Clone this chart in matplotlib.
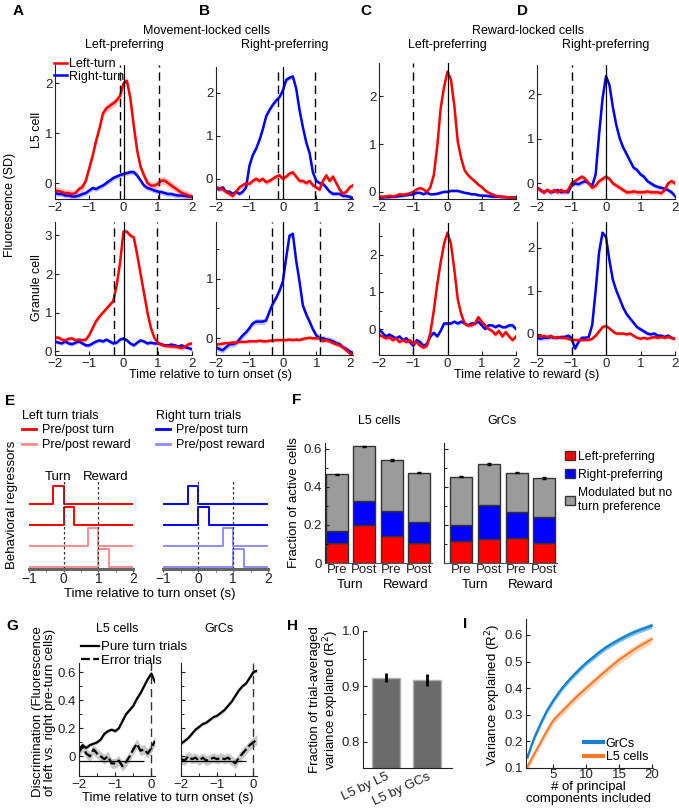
import numpy as np
import matplotlib
matplotlib.use('Agg')
import matplotlib.pyplot as plt
from matplotlib.transforms import ScaledTranslation

plt.rcParams['font.family'] = ['Liberation Sans', 'DejaVu Sans']
plt.rcParams['font.size'] = 9
plt.rcParams['xtick.direction'] = 'in'
plt.rcParams['ytick.direction'] = 'in'
plt.rcParams['xtick.major.size'] = 3
plt.rcParams['ytick.major.size'] = 3
plt.rcParams['xtick.minor.size'] = 2
plt.rcParams['ytick.minor.size'] = 2
plt.rcParams['xtick.major.pad'] = 2
plt.rcParams['ytick.major.pad'] = 2
plt.rcParams['xtick.labelsize'] = 9.5
plt.rcParams['ytick.labelsize'] = 9.5

# ---------------- data: panels A-D (traces, SD) ----------------
t_std = np.round(np.arange(-2.0, 2.01, 0.1), 1)     # 41 samples
t_long = np.round(np.arange(-2.0, 2.11, 0.1), 1)    # 42 samples (panel B)

a_top_red = [-0.15, -0.16, -0.18, -0.2, -0.2, -0.22, -0.2, -0.12, -0.08, 0.05,
             0.3, 0.55, 0.85, 1.1, 1.4, 1.5, 1.55, 1.6, 1.66, 1.75,
             2.0, 2.05, 1.7, 1.15, 0.65, 0.32, 0.15, 0.0, -0.05, -0.05,
             -0.02, 0.05, 0.05, 0.0, -0.05, -0.1, -0.15, -0.2, -0.22, -0.25, -0.27]
a_top_blue = [-0.2, -0.22, -0.22, -0.25, -0.25, -0.27, -0.27, -0.25, -0.22, -0.2,
              -0.15, -0.1, -0.12, -0.08, -0.05, 0.0, 0.05, 0.1, 0.13, 0.16,
              0.18, 0.2, 0.22, 0.22, 0.15, 0.05, -0.05, -0.1, -0.12, -0.15,
              -0.17, -0.18, -0.2, -0.22, -0.22, -0.24, -0.25, -0.25, -0.26, -0.27, -0.28]
a_bot_red = [0.35, 0.35, 0.3, 0.28, 0.32, 0.33, 0.28, 0.3, 0.28, 0.3,
             0.42, 0.6, 0.78, 0.9, 1.0, 1.1, 1.2, 1.3, 1.7, 2.3,
             3.1, 3.1, 3.0, 2.95, 2.5, 2.0, 1.5, 1.0, 0.6, 0.35,
             0.22, 0.17, 0.14, 0.13, 0.12, 0.12, 0.1, 0.08, 0.12, 0.18, 0.2]
a_bot_blue = [0.25, 0.22, 0.2, 0.25, 0.2, 0.18, 0.22, 0.25, 0.2, 0.15,
              0.15, 0.2, 0.25, 0.28, 0.25, 0.3, 0.25, 0.2, 0.22, 0.3,
              0.33, 0.28, 0.2, 0.15, 0.22, 0.28, 0.25, 0.2, 0.22, 0.2,
              0.2, 0.18, 0.15, 0.15, 0.17, 0.15, 0.12, 0.15, 0.1, 0.08, 0.05]

b_top_red = [-0.2, -0.22, -0.25, -0.3, -0.35, -0.4, -0.3, -0.2, -0.15, -0.1,
             -0.12, -0.05, 0.0, -0.05, 0.0, -0.08, -0.05, 0.0, 0.05, 0.08,
             0.0, 0.05, 0.12, 0.15, 0.05, -0.05, -0.05, -0.1, -0.05, -0.15,
             -0.2, -0.25, -0.05, 0.08, -0.05, 0.05, -0.1, -0.25, -0.35, -0.3, -0.2, -0.15]
b_top_blue = [-0.2, -0.25, -0.2, -0.3, -0.3, -0.35, -0.3, -0.35, -0.3, -0.2,
              0.3, 0.55, 0.7, 0.9, 1.15, 1.45, 1.6, 1.72, 1.82, 1.9,
              2.05, 2.3, 2.35, 2.38, 2.1, 1.6, 1.2, 0.85, 0.6, 0.15,
              -0.05, -0.1, -0.12, -0.2, -0.3, -0.35, -0.35, -0.35, -0.4, -0.4, -0.42, -0.45]
b_bot_red = [-0.1, -0.1, -0.09, -0.08, -0.08, -0.07, -0.07, -0.06, -0.06, -0.06,
             -0.05, -0.05, -0.05, -0.04, -0.05, -0.05, -0.04, -0.04, -0.03, -0.03,
             -0.03, -0.03, -0.02, -0.03, -0.02, -0.03, -0.01, 0.0, 0.01, 0.0,
             0.0, 0.0, -0.05, -0.03, -0.05, -0.08, -0.1, -0.12, -0.15, -0.2, -0.25, -0.3]
b_bot_blue = [-0.15, -0.18, -0.2, -0.15, -0.1, -0.1, -0.08, -0.02, 0.05, 0.1,
              0.17, 0.25, 0.28, 0.28, 0.28, 0.3, 0.45, 0.58, 0.68, 0.8,
              0.95, 1.35, 1.72, 1.75, 1.3, 0.95, 0.55, 0.4, 0.28, 0.15,
              0.05, 0.0, 0.0, -0.02, -0.03, -0.05, -0.08, -0.1, -0.15, -0.18, -0.22, -0.25]

c_top_red = [-0.1, -0.1, -0.1, -0.08, -0.1, -0.08, -0.05, -0.06, -0.05, -0.03,
             0.0, 0.05, 0.08, 0.05, 0.0, 0.1, 0.35, 0.95, 1.75, 2.2,
             2.52, 2.35, 1.8, 1.05, 0.7, 0.45, 0.35, 0.28, 0.22, 0.15,
             0.1, 0.03, -0.02, -0.05, -0.08, -0.1, -0.1, -0.11, -0.12, -0.12, -0.13]
c_top_blue = [-0.12, -0.12, -0.11, -0.11, -0.1, -0.1, -0.09, -0.08, -0.07, -0.06,
              -0.05, -0.02, -0.02, -0.05, -0.02, -0.05, -0.05, -0.04, -0.02, 0.0,
              0.0, 0.02, 0.02, 0.02, 0.0, -0.02, -0.03, -0.05, -0.05, -0.07,
              -0.08, -0.08, -0.09, -0.1, -0.1, -0.1, -0.11, -0.11, -0.12, -0.12, -0.12]
c_bot_red = [-0.15, -0.2, -0.25, -0.22, -0.3, -0.25, -0.35, -0.3, -0.35, -0.3,
             -0.4, -0.35, -0.45, -0.5, -0.45, -0.1, 0.5, 1.2, 1.8, 2.3,
             2.6, 2.3, 1.6, 0.8, 0.4, 0.15, 0.1, 0.1, 0.15, 0.32,
             0.2, 0.1, 0.0, -0.05, -0.15, -0.05, -0.2, -0.08, -0.2, -0.3, -0.2]
c_bot_blue = [0.0, -0.1, -0.2, -0.15, -0.2, -0.25, -0.2, -0.3, -0.25, -0.35,
              -0.45, -0.3, -0.35, -0.45, -0.4, -0.2, -0.1, -0.2, -0.05, 0.15,
              0.15, 0.15, 0.2, 0.15, 0.2, 0.15, 0.1, 0.15, 0.15, 0.2,
              0.1, 0.0, 0.1, 0.1, 0.05, 0.1, 0.05, 0.05, 0.1, 0.1, 0.0]

d_top_red = [-0.1, -0.15, -0.2, -0.15, -0.2, -0.15, -0.2, -0.15, -0.2, -0.15,
             0.0, 0.05, 0.1, 0.15, 0.1, 0.0, -0.1, -0.05, 0.05, 0.1,
             0.15, 0.1, 0.0, -0.05, -0.1, -0.15, -0.2, -0.2, -0.18, -0.2,
             -0.2, -0.2, -0.18, -0.2, -0.2, -0.2, -0.22, -0.15, 0.0, 0.05, 0.0]
d_top_blue = [-0.1, -0.15, -0.2, -0.15, -0.2, -0.18, -0.15, -0.2, -0.18, -0.2,
              -0.05, 0.0, -0.02, 0.02, 0.05, 0.0, -0.05, 0.2, 1.1, 1.9,
              2.4, 2.2, 1.7, 1.3, 1.0, 0.8, 0.65, 0.5, 0.35, 0.3,
              0.2, 0.15, 0.05, 0.0, -0.05, -0.08, -0.1, -0.12, -0.15, -0.2, -0.28]
d_bot_red = [-0.05, -0.07, -0.05, -0.08, -0.05, -0.1, -0.08, -0.1, -0.1, -0.12,
             -0.15, -0.15, -0.15, -0.15, -0.15, -0.15, -0.12, -0.05, 0.05, 0.15,
             0.18, 0.12, 0.05, 0.0, 0.0, 0.0, -0.02, 0.0, -0.05, -0.1,
             -0.12, -0.1, -0.12, -0.1, -0.08, -0.1, -0.08, -0.1, -0.08, -0.1, -0.12]
d_bot_blue = [-0.1, -0.12, -0.1, -0.1, -0.08, -0.1, -0.1, -0.08, -0.08, -0.05,
              -0.1, -0.35, -0.2, -0.1, -0.1, -0.08, 0.2, 1.0, 1.9, 2.35,
              2.25, 1.7, 1.25, 1.0, 0.8, 0.6, 0.45, 0.35, 0.25, 0.15,
              0.1, 0.05, 0.0, -0.02, 0.0, -0.05, -0.05, -0.08, -0.05, -0.1, -0.12]

# ---------------- data: panel E (regressor windows, s) ----------------
e_windows = [(-0.3, 0.0), (0.0, 0.3), (0.7, 1.0), (1.0, 1.3)]

# ---------------- data: panel F (fraction of active cells) ----------------
f_groups = ['Pre', 'Post', 'Pre', 'Post']
f_l5_left = [0.107, 0.197, 0.142, 0.107]
f_l5_right = [0.063, 0.127, 0.133, 0.108]
f_l5_nopref = [0.295, 0.288, 0.265, 0.259]
f_grc_left = [0.118, 0.128, 0.133, 0.107]
f_grc_right = [0.082, 0.175, 0.133, 0.137]
f_grc_nopref = [0.253, 0.218, 0.208, 0.201]
f_err = 0.004

# ---------------- data: panel G (discrimination) ----------------
t_g = np.round(np.arange(-2.0, 0.11, 0.1), 1)
g_l5_pure = [0.05, 0.08, 0.06, 0.08, 0.09, 0.1, 0.12, 0.16, 0.18, 0.19,
             0.18, 0.2, 0.25, 0.3, 0.33, 0.36, 0.41, 0.45, 0.5, 0.55, 0.59, 0.53]
g_l5_err = [0.03, 0.07, 0.02, 0.0, 0.05, 0.02, 0.0, -0.02, 0.0, -0.05,
            -0.05, -0.03, -0.07, -0.04, 0.0, 0.05, 0.09, 0.04, 0.05, 0.02, 0.06, 0.11]
g_grc_pure = [0.09, 0.11, 0.13, 0.16, 0.19, 0.21, 0.23, 0.24, 0.26, 0.28,
              0.29, 0.31, 0.33, 0.36, 0.39, 0.43, 0.47, 0.5, 0.52, 0.56, 0.6, 0.61]
g_grc_err = [-0.02, -0.03, 0.0, -0.02, -0.01, -0.03, -0.01, -0.03, -0.02, -0.01,
             -0.02, -0.01, -0.02, -0.01, -0.03, -0.05, -0.01, 0.02, 0.05, 0.08, 0.1, 0.12]

# ---------------- data: panel H ----------------
h_labels = ['L5 by L5', 'L5 by GCs']
h_vals = [0.916, 0.912]
h_errs = [0.0075, 0.011]

# ---------------- data: panel I ----------------
i_npc = np.arange(1, 21)
i_grc = [0.14, 0.21, 0.265, 0.315, 0.355, 0.39, 0.42, 0.447, 0.472, 0.495,
         0.515, 0.535, 0.553, 0.568, 0.582, 0.595, 0.607, 0.617, 0.626, 0.635]
i_l5 = [0.105, 0.15, 0.195, 0.24, 0.28, 0.305, 0.33, 0.355, 0.378, 0.4,
        0.422, 0.444, 0.465, 0.486, 0.506, 0.523, 0.54, 0.556, 0.57, 0.584]

RED, BLUE = '#ff0000', '#0000ff'
W, H = 679, 808
fig = plt.figure(figsize=(W / 100, H / 100), dpi=100)


def px_ax(l, t, r, b):
    return fig.add_axes([l / W, 1 - b / H, (r - l) / W, (b - t) / H])


def ftext(x, y, s, **kw):
    kw.setdefault('ha', 'center')
    kw.setdefault('va', 'center')
    fig.text(x / W, 1 - y / H, s, **kw)


def clean(ax):
    for side in ['top', 'right']:
        ax.spines[side].set_visible(False)
    for side in ['left', 'bottom']:
        ax.spines[side].set_linewidth(0.8)
        ax.spines[side].set_color('#222222')
    ax.tick_params(colors='#222222', width=0.8)
    ax.patch.set_alpha(0)


def trace_panel(rect, t, red, blue, ylim, dashed, xmax=2.0, sems=(0.06, 0.05), minor=False):
    ax = px_ax(*rect)
    red = np.array(red)
    blue = np.array(blue)
    ax.fill_between(t, blue - sems[1], blue + sems[1], color='#9a9aff', alpha=0.6, lw=0)
    ax.fill_between(t, red - sems[0], red + sems[0], color='#ff9a9a', alpha=0.6, lw=0)
    lb, = ax.plot(t, blue, color=BLUE, lw=1.8)
    lr, = ax.plot(t, red, color=RED, lw=1.8)
    for x in dashed:
        ax.axvline(x, color='k', lw=1.0, ls=(0, (6, 3.5)))
    ax.axvline(0, color='k', lw=0.9)
    ax.set_xlim(-2, xmax)
    ax.set_ylim(*ylim)
    ax.set_xticks([-2, -1, 0, 1, 2])
    ax.set_yticks([v for v in [0, 1, 2, 3] if v <= ylim[1]])
    if minor:
        ax.set_yticks([v for v in [0.5, 1.5, 2.5] if v <= ylim[1]], minor=True)
    clean(ax)
    return ax, lr, lb


# ---------------- A-D ----------------
axA, lr, lb = trace_panel((55, 65, 192, 199), t_std, a_top_red, a_top_blue, (-0.32, 2.37), [-0.1, 1.05],
                          sems=(0.08, 0.05))
fig.legend([lr, lb], ['Left-turn', 'Right-turn'], loc='upper left', bbox_to_anchor=(54 / W, 1 - 58 / H),
           frameon=False, borderpad=0, borderaxespad=0, handlelength=1.0, handletextpad=0.2,
           labelspacing=0.05, fontsize=9)
trace_panel((55, 222, 192, 355), t_std, a_bot_red, a_bot_blue, (-0.1, 3.35), [-0.29, 0.97])
trace_panel((216, 67, 353, 199), t_long, b_top_red, b_top_blue, (-0.47, 2.6), [-0.15, 0.95], xmax=2.1)
trace_panel((216, 222, 353, 355), t_long, b_bot_red, b_bot_blue, (-0.28, 1.95), [-0.31, 1.12], xmax=2.1,
            sems=(0.03, 0.05), minor=True)
trace_panel((379, 63, 516, 199), t_std, c_top_red, c_top_blue, (-0.15, 2.7), [-1.0], sems=(0.04, 0.03))
trace_panel((379, 223, 516, 355), t_std, c_bot_red, c_bot_blue, (-0.7, 2.86), [-1.0], minor=True)
trace_panel((537, 65, 675, 199), t_std, d_top_red, d_top_blue, (-0.35, 2.65), [-1.0])
trace_panel((537, 222, 675, 355), t_std, d_bot_red, d_bot_blue, (-0.5, 2.6), [-1.0], sems=(0.04, 0.05))

bold = dict(fontweight='bold', fontsize=11)
ftext(18, 11, 'A', **bold)
ftext(205, 11, 'B', **bold)
ftext(366, 11, 'C', **bold)
ftext(523, 11, 'D', **bold)
ftext(207, 31, 'Movement-locked cells')
ftext(124, 45, 'Left-preferring')
ftext(285, 45, 'Right-preferring')
ftext(528, 31, 'Reward-locked cells')
ftext(447, 45, 'Left-preferring')
ftext(606, 45, 'Right-preferring')
ftext(10, 205, 'Fluorescence (SD)', rotation=90)
ftext(37, 130, 'L5 cell', rotation=90)
ftext(37, 288, 'Granule cell', rotation=90)
ftext(210, 375, 'Time relative to turn onset (s)')
ftext(527, 375, 'Time relative to reward (s)')

# ---------------- E ----------------
ftext(10, 401, 'E', **bold)
e_cols = [[RED, RED, '#ff8c8c', '#ff8c8c'], [BLUE, BLUE, '#8c8cff', '#8c8cff']]
e_titles = ['Left turn trials', 'Right turn trials']
e_rects = [(29, 480, 133, 569), (163, 480, 268, 569)]
for k in range(2):
    ax = px_ax(*e_rects[k])
    handles = []
    for j, (a, b) in enumerate(e_windows):
        off = 3 - j
        ln, = ax.plot([-1, a, a, b, b, 2], [off, off, off + 0.85, off + 0.85, off, off],
                      color=e_cols[k][j], lw=1.4)
        handles.append(ln)
    ax.axvline(0, color='#333333', lw=0.9, ls=(0, (2, 2)))
    ax.axvline(1, color='#333333', lw=0.9, ls=(0, (2, 2)))
    ax.set_xlim(-1, 2)
    ax.set_ylim(-0.1, 4.14)
    ax.set_yticks([])
    ax.set_xticks([-1, 0, 1, 2])
    ax.set_xticks([-0.5, 0.5, 1.5], minor=True)
    ax.tick_params(axis='x', direction='out', length=2, width=1, colors='#555555', labelcolor='#222222',
                   labelsize=10, pad=0)
    ax.tick_params(axis='x', which='minor', direction='out', length=2, colors='#555555')
    for side in ['top', 'right', 'left']:
        ax.spines[side].set_visible(False)
    ax.spines['bottom'].set_linewidth(2.2)
    ax.spines['bottom'].set_color('#666666')
    ax.patch.set_alpha(0)
    lx = [22, 156][k]
    leg = fig.legend([handles[0], handles[2]], ['Pre/post turn', 'Pre/post reward'], title=e_titles[k],
                     alignment='left', loc='upper left', bbox_to_anchor=(lx / W, 1 - 410 / H), frameon=False,
                     borderpad=0, borderaxespad=0, handlelength=1.1, handletextpad=0.5, labelspacing=0.2,
                     fontsize=9, title_fontsize=9)
    for h in leg.legend_handles:
        h.set_linewidth(2)
    if k == 0:
        ax.text(-0.16, 4.3, 'Turn', ha='center', va='center', fontsize=9.5)
        ax.text(1.22, 4.3, 'Reward', ha='center', va='center', fontsize=9.5)
ftext(12, 505, 'Behavioral regressors', rotation=90, fontsize=9.5)
ftext(150, 594, 'Time relative to turn onset (s)', fontsize=9.5)

# ---------------- F ----------------
ftext(297, 400, 'F', **bold)
f_pos = np.arange(1, 5)
f_sets = [((325, 443, 432, 563), (0.57, 4.47), f_l5_left, f_l5_right, f_l5_nopref, 'L5 cells'),
          ((444, 443, 557, 563), (0.37, 4.46), f_grc_left, f_grc_right, f_grc_nopref, 'GrCs')]
for k, (rect, xl, lft, rgt, nop, title) in enumerate(f_sets):
    ax = px_ax(*rect)
    lft, rgt, nop = np.array(lft), np.array(rgt), np.array(nop)
    kw = dict(width=0.79, edgecolor='#333333', linewidth=1.0)
    b1 = ax.bar(f_pos, lft, color=RED, **kw)
    b2 = ax.bar(f_pos, rgt, bottom=lft, color=BLUE, **kw)
    b3 = ax.bar(f_pos, nop, bottom=lft + rgt, color='#9b9b9b', **kw)
    ax.errorbar(f_pos, lft + rgt + nop, yerr=f_err, fmt='none', ecolor='k', elinewidth=0.8, capsize=1.5)
    ax.set_xlim(*xl)
    ax.set_ylim(0, 0.63)
    ax.set_yticks([0, 0.2, 0.4, 0.6])
    ax.set_yticks([0.1, 0.3, 0.5], minor=True)
    ax.set_xticks(f_pos)
    ax.set_xticklabels(f_groups, fontsize=9.5)
    ax.tick_params(axis='x', length=0, pad=1)
    if k == 0:
        ax.set_yticklabels(['0', '0.2', '0.4', '0.6'])
    else:
        ax.set_yticklabels([])
    ax.text(1.5, -0.18, 'Turn', ha='center', va='center', fontsize=9.5, transform=ax.get_xaxis_transform())
    ax.text(3.5, -0.18, 'Reward', ha='center', va='center', fontsize=9.5, transform=ax.get_xaxis_transform())
    clean(ax)
    ax.spines['bottom'].set_color('#555555')
    ftext((rect[0] + rect[2]) / 2 + 1, 421, title)
fig.legend([b1, b2, b3], ['Left-preferring', 'Right-preferring', 'Modulated but no\nturn preference'],
           loc='upper left', bbox_to_anchor=(565 / W, 1 - 451 / H), frameon=False, borderpad=0,
           borderaxespad=0, handlelength=0.8, handleheight=0.8, handletextpad=0.25, labelspacing=0.5,
           fontsize=8.7)
ftext(294, 503, 'Fraction of active cells', rotation=90, fontsize=9.5)

# ---------------- G ----------------
ftext(12, 626, 'G', **bold)
g_sets = [((79, 663, 155, 776), g_l5_pure, g_l5_err, 'L5 cells'),
          ((181, 663, 257, 776), g_grc_pure, g_grc_err, 'GrCs')]
for k, (rect, pure, err, title) in enumerate(g_sets):
    ax = px_ax(*rect)
    pure, err = np.array(pure), np.array(err)
    ax.fill_between(t_g, err - 0.035, err + 0.035, color='#c8c8c8', lw=0)
    ax.fill_between(t_g, pure - 0.012, pure + 0.012, color='#c8c8c8', lw=0)
    lp, = ax.plot(t_g, pure, color='k', lw=1.6)
    le, = ax.plot(t_g, err, color='k', lw=1.6, ls=(0, (4, 1.5)))
    ax.hlines(-0.03, -2, -0.2, color='k', lw=0.9)
    ax.axvline(0, color='#333333', lw=1.0, ls=(0, (6, 3.5)))
    ax.set_xlim(-2, 0.1)
    ax.set_ylim(-0.14, 0.665)
    ax.set_xticks([-2, -1, 0])
    ax.set_xticks([-1.5, -0.5], minor=True)
    ax.set_yticks([0, 0.2, 0.4, 0.6])
    ax.set_yticks([0.1, 0.3, 0.5], minor=True)
    if k == 0:
        ax.set_yticklabels(['0', '0.2', '0.4', '0.6'])
    else:
        ax.set_yticklabels([])
    clean(ax)
    ftext((rect[0] + rect[2]) / 2, 629, title)
fig.legend([lp, le], ['Pure turn trials', 'Error trials'], loc='upper left',
           bbox_to_anchor=(81 / W, 1 - 641 / H), frameon=False, borderpad=0, borderaxespad=0,
           handlelength=1.4, handletextpad=0.15, labelspacing=0.1, fontsize=9.5)
ftext(44, 712, 'Discrimination (Fluorescence\nof left vs. right pre-turn cells)', rotation=90,
      fontsize=9.5, linespacing=1.0)
ftext(168, 798, 'Time relative to turn onset (s)', fontsize=9.5)

# ---------------- H ----------------
ftext(292, 626, 'H', **bold)
ax = px_ax(363, 631, 452, 768)
ax.bar([1, 2], h_vals, width=0.66, color='#6b6b6b', edgecolor='#b0b0b0', linewidth=1.0)
ax.errorbar([1, 2], h_vals, yerr=h_errs, fmt='none', ecolor='k', elinewidth=2.0, capsize=0)
ax.set_xlim(0.44, 2.61)
ax.set_ylim(0.753, 1.0)
ax.set_yticks([0.8, 0.9, 1.0])
ax.set_yticklabels(['0.8', '0.9', '1.0'])
ax.set_yticks([0.85, 0.95], minor=True)
ax.set_xticks([1, 2])
ax.set_xticklabels(h_labels, rotation=25, ha='right', rotation_mode='anchor', fontsize=9.5)
shift = ScaledTranslation(0.13, 0, fig.dpi_scale_trans)
for lab in ax.get_xticklabels():
    lab.set_transform(lab.get_transform() + shift)
ax.tick_params(axis='x', length=0, pad=2)
clean(ax)
ftext(325, 700, 'Fraction of trial-averaged\nvariance explained (R$^2$)', rotation=90, fontsize=9.5,
      linespacing=1.0)

# ---------------- I ----------------
ftext(465, 624, 'I', **bold)
ax = px_ax(526, 619, 653, 768)
gr = np.array(i_grc)
l5 = np.array(i_l5)
ax.fill_between(i_npc, gr - 0.01, gr + 0.01, color='#5ab4dc', alpha=0.8, lw=0)
ax.fill_between(i_npc, l5 - 0.015, l5 + 0.015, color='#fdcfae', alpha=0.9, lw=0)
ax.plot(i_npc, gr, color='#1a7fd0', lw=1.6, label='GrCs')
ax.plot(i_npc, l5, color='#f07a2a', lw=1.4, label='L5 cells')
ax.set_xlim(0.8, 20.2)
ax.set_ylim(0.1, 0.66)
ax.set_xticks([5, 10, 15, 20])
ax.set_yticks([0.1, 0.2, 0.3, 0.4, 0.5, 0.6])
ax.tick_params(axis='x', pad=1)
leg = ax.legend(loc='lower right', frameon=False, borderpad=0, borderaxespad=0.4, handlelength=1.5,
                handletextpad=0.2, labelspacing=0.1, fontsize=9)
for h in leg.legend_handles:
    h.set_linewidth(3)
clean(ax)
ftext(588, 793, '# of principal\ncomponents included', fontsize=9.5, linespacing=0.9)
ftext(493, 695, 'Variance explained (R$^2$)', rotation=90, fontsize=9.5)

fig.savefig('out.png', dpi=100)
